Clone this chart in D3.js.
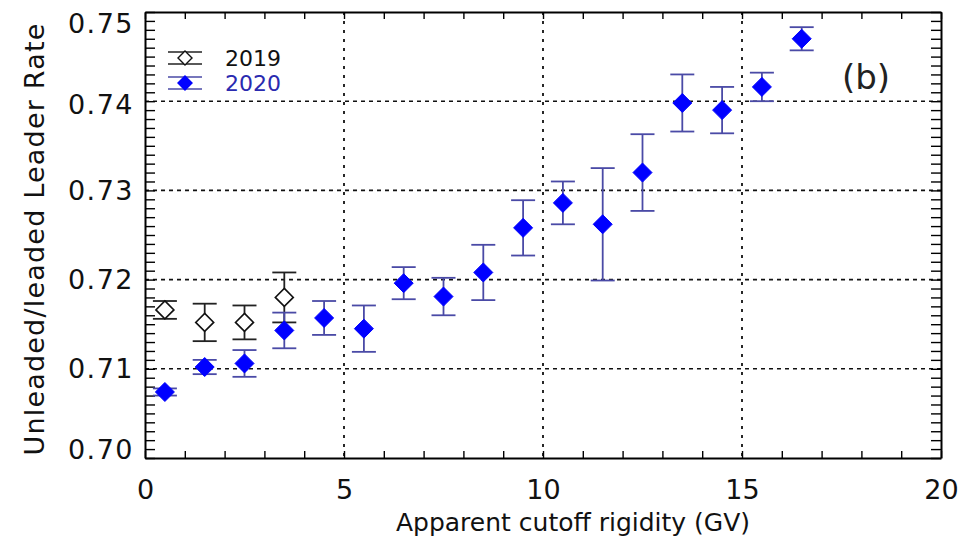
<!DOCTYPE html>
<html>
<head>
<meta charset="utf-8">
<script src="https://cdn.jsdelivr.net/npm/d3@7/dist/d3.min.js"></script>
<style>
  body { margin: 0; background: #fff; }
  svg { display: block; font-family: 'DejaVu Sans', sans-serif; }
</style>
</head>
<body>
<div id="chart"></div>
<script>
// 2019 series (open diamonds)
const rig2019 = [0.5, 1.5, 2.5, 3.5];
const rate2019 = [0.7166, 0.7152, 0.7152, 0.7180];
const err2019 = [0.0010, 0.0021, 0.0019, 0.0028];

// 2020 series (filled blue diamonds)
const rig2020 = [0.5, 1.5, 2.5, 3.5, 4.5, 5.5, 6.5, 7.5, 8.5, 9.5, 10.5, 11.5, 12.5, 13.5, 14.5, 15.5, 16.5];
const rate2020 = [0.7074, 0.7102, 0.7106, 0.7143, 0.7157, 0.7145, 0.7196, 0.7181, 0.7208, 0.7258,
  0.7286, 0.7262, 0.7320, 0.7398, 0.7390, 0.7416, 0.7470];
const err2020 = [0.0004, 0.0008, 0.0015, 0.0020, 0.0019, 0.0026, 0.0018, 0.0021, 0.0031, 0.0031,
  0.0024, 0.0063, 0.0043, 0.0032, 0.0026, 0.0016, 0.0013];

const xTicks = [0, 5, 10, 15, 20];
const yTicks = [0.70, 0.71, 0.72, 0.73, 0.74, 0.75];
const legendLabels = ['2019', '2020'];

const width = 978, height = 548;
const margin = {top: 12, right: 37, bottom: 90, left: 145};
const w = width - margin.left - margin.right;
const h = height - margin.top - margin.bottom;

const blue = '#0000ff';
const barBlue = '#4a4aa6';

const svg = d3.select('#chart').append('svg')
  .attr('width', width)
  .attr('height', height);

const g = svg.append('g')
  .attr('transform', 'translate(' + margin.left + ',' + margin.top + ')');

const x = d3.scaleLinear().domain([0, 20]).range([0, w]);
const y = d3.scaleLinear().domain([0.70, 0.75]).range([h, 0]);

// grid lines
g.append('g').selectAll('line')
  .data(yTicks.slice(1, -1))
  .enter().append('line')
  .attr('x1', 0).attr('x2', w)
  .attr('y1', d => y(d)).attr('y2', d => y(d))
  .attr('stroke', '#111').attr('stroke-width', 1.6)
  .attr('stroke-dasharray', '4,4');

g.append('g').selectAll('line')
  .data(xTicks.slice(1, -1))
  .enter().append('line')
  .attr('x1', d => x(d)).attr('x2', d => x(d))
  .attr('y1', 0).attr('y2', h)
  .attr('stroke', '#111').attr('stroke-width', 1.8)
  .attr('stroke-dasharray', '3,6');

// axes
const minorX = d3.range(0, 21, 1);
const minorY = d3.range(0, 51).map(i => 0.70 + i * 0.001);
const fmtX = d => (d % 5 === 0 ? d3.format('d')(d) : '');
const fmtY = d => (Math.abs(Math.round(d * 100) - d * 100) < 1e-6 ? d3.format('.2f')(d) : '');

function styleAxis(sel) {
  sel.select('.domain').attr('stroke', '#000').attr('stroke-width', 2);
  sel.selectAll('.tick line').attr('stroke', '#000').attr('stroke-width', 1.4);
  sel.selectAll('.tick text').attr('fill', '#111');
}

g.append('g')
  .attr('transform', 'translate(0,' + h + ')')
  .call(d3.axisBottom(x).tickValues(minorX).tickFormat(fmtX).tickSize(-7).tickSizeOuter(0).tickPadding(22))
  .call(styleAxis)
  .call(a => a.selectAll('.tick text').attr('font-size', 27).attr('font-family', 'DejaVu Sans'));

g.append('g')
  .call(d3.axisTop(x).tickValues(minorX).tickFormat('').tickSize(-7).tickSizeOuter(0))
  .call(styleAxis);

g.append('g')
  .call(d3.axisLeft(y).tickValues(minorY).tickFormat(fmtY).tickSize(-10).tickSizeOuter(0).tickPadding(11))
  .call(styleAxis)
  .call(a => a.selectAll('.tick text')
    .attr('font-size', 27).attr('font-family', 'DejaVu Sans').attr('letter-spacing', 1.5)
    .attr('dy', d => (Math.abs(d - 0.75) < 1e-9 ? '0.75em' : Math.abs(d - 0.70) < 1e-9 ? '0' : Math.abs(d - 0.74) < 1e-9 ? '0.45em' : '0.32em')));

g.append('g')
  .attr('transform', 'translate(' + w + ',0)')
  .call(d3.axisRight(y).tickValues(minorY).tickFormat('').tickSize(-10).tickSizeOuter(0))
  .call(styleAxis);

// diamond path
function diamond(r) {
  return 'M0,' + (-r) + 'L' + r + ',0L0,' + r + 'L' + (-r) + ',0Z';
}

function drawSeries(rig, rate, err, opts) {
  const pts = rig.map((r, i) => ({x: r, y: rate[i], e: err[i]}));
  const grp = g.append('g');
  const bars = grp.selectAll('g.bar').data(pts).enter().append('g').attr('class', 'bar');
  bars.append('line')
    .attr('x1', d => x(d.x)).attr('x2', d => x(d.x))
    .attr('y1', d => y(d.y - d.e)).attr('y2', d => y(d.y + d.e))
    .attr('stroke', opts.bar).attr('stroke-width', 1.8);
  [-1, 1].forEach(s => {
    bars.append('line')
      .attr('x1', d => x(d.x) - 12).attr('x2', d => x(d.x) + 12)
      .attr('y1', d => y(d.y + s * d.e)).attr('y2', d => y(d.y + s * d.e))
      .attr('stroke', opts.bar).attr('stroke-width', 1.8);
  });
  grp.selectAll('path').data(pts).enter().append('path')
    .attr('d', diamond(opts.r))
    .attr('transform', d => 'translate(' + x(d.x) + ',' + y(d.y) + ')')
    .attr('fill', opts.fill)
    .attr('stroke', opts.stroke)
    .attr('stroke-width', opts.sw);
}

drawSeries(rig2019, rate2019, err2019, {bar: '#222', fill: '#fff', stroke: '#111', sw: 1.6, r: 9});
drawSeries(rig2020, rate2020, err2020, {bar: barBlue, fill: blue, stroke: blue, sw: 1, r: 9.5});

// legend
const legend = g.append('g').attr('transform', 'translate(40,46)');
const legendStyle = [
  {bar: '#222', fill: '#fff', stroke: '#111', text: '#111'},
  {bar: barBlue, fill: blue, stroke: blue, text: '#2a2ab0'}
];
legendLabels.forEach((lab, i) => {
  const row = legend.append('g').attr('transform', 'translate(0,' + i * 25 + ')');
  [-6, 6].forEach(dy => {
    row.append('line').attr('x1', -17).attr('x2', 17).attr('y1', dy).attr('y2', dy)
      .attr('stroke', legendStyle[i].bar).attr('stroke-width', 1.6);
  });
  row.append('line').attr('x1', 0).attr('x2', 0).attr('y1', -6).attr('y2', 6)
    .attr('stroke', legendStyle[i].bar).attr('stroke-width', 1.6);
  row.append('path').attr('d', diamond(7))
    .attr('fill', legendStyle[i].fill).attr('stroke', legendStyle[i].stroke).attr('stroke-width', 1.4);
  row.append('text').attr('x', 40).attr('y', 8)
    .attr('font-size', 22).attr('fill', legendStyle[i].text).text(lab);
});

// panel label
g.append('text')
  .attr('x', w - 75).attr('y', 77)
  .attr('text-anchor', 'middle')
  .attr('font-size', 34)
  .attr('fill', '#222')
  .text('(b)');

// axis titles
svg.append('text')
  .attr('x', 573).attr('y', 531)
  .attr('text-anchor', 'middle')
  .attr('font-size', 25)
  .attr('fill', '#111')
  .text('Apparent cutoff rigidity (GV)');

svg.append('text')
  .attr('transform', 'translate(44,239) rotate(-90)')
  .attr('text-anchor', 'middle')
  .attr('font-size', 27)
  .attr('letter-spacing', 1.2)
  .attr('fill', '#111')
  .text('Unleaded/leaded Leader Rate');
</script>
</body>
</html>
